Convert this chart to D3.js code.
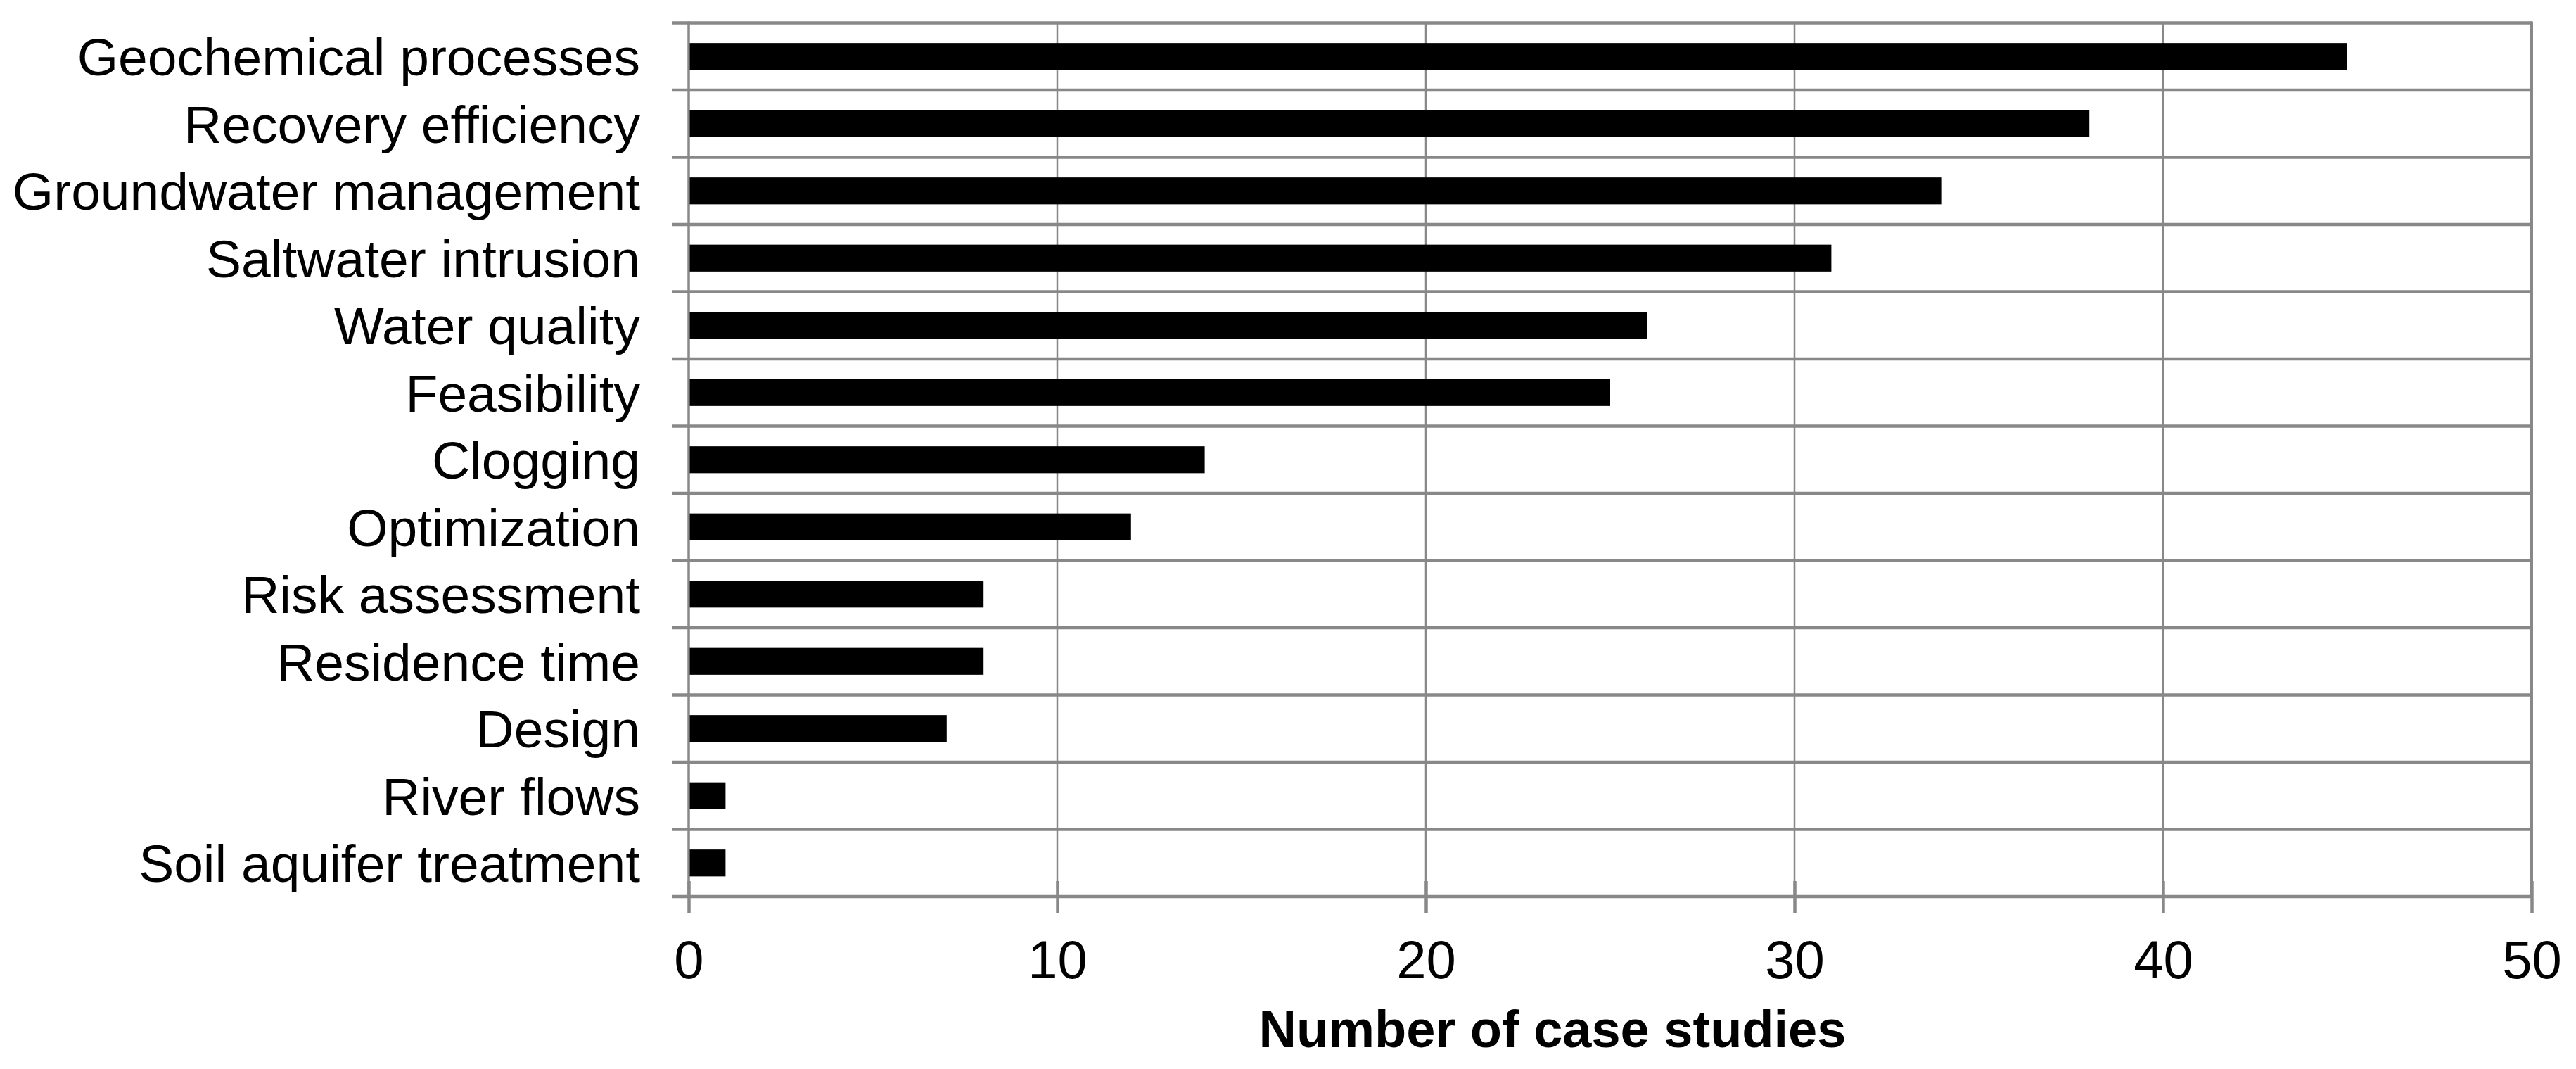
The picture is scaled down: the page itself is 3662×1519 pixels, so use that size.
<!DOCTYPE html>
<html>
<head>
<meta charset="utf-8">
<script src="https://cdn.jsdelivr.net/npm/d3@7"></script>
<style>
  html, body { margin: 0; padding: 0; background: #fff; }
  svg { display: block; }
  text { font-family: "Liberation Sans", Arial, sans-serif; fill: #000; }
</style>
</head>
<body>
<svg id="chart" width="3662" height="1519"></svg>
<script>
const categories = [
  "Geochemical processes",
  "Recovery efficiency",
  "Groundwater management",
  "Saltwater intrusion",
  "Water quality",
  "Feasibility",
  "Clogging",
  "Optimization",
  "Risk assessment",
  "Residence time",
  "Design",
  "River flows",
  "Soil aquifer treatment"
];
const values = [45, 38, 34, 31, 26, 25, 14, 12, 8, 8, 7, 1, 1];
const xTicks = [0, 10, 20, 30, 40, 50];
const xTitle = "Number of case studies";

const plotLeft = 979, plotRight = 3599, plotTop = 32.5, plotBottom = 1274;
const grid = "#888888";

const svg = d3.select("#chart");

const x = d3.scaleLinear().domain([0, 50]).range([plotLeft, plotRight]);
const yRow = d3.scaleBand().domain(categories).range([plotTop, plotBottom]).padding(0);
const yBar = d3.scaleBand().domain(categories).range([plotTop, plotBottom])
  .paddingInner(0.6).paddingOuter(0.3);

// vertical gridlines
svg.append("g").selectAll("line").data(xTicks.slice(1, -1)).join("line")
  .attr("x1", d => x(d)).attr("x2", d => x(d))
  .attr("y1", plotTop).attr("y2", plotBottom)
  .attr("stroke", grid).attr("stroke-width", 2.5);

// horizontal row separators (with left ticks)
const rowEdges = categories.map(c => yRow(c)).concat([plotBottom]);
svg.append("g").selectAll("line").data(rowEdges).join("line")
  .attr("x1", plotLeft - 23).attr("x2", plotRight)
  .attr("y1", d => d).attr("y2", d => d)
  .attr("stroke", grid).attr("stroke-width", 4.5);

// left axis line and right border
svg.append("line").attr("x1", plotLeft).attr("x2", plotLeft).attr("y1", plotTop - 2).attr("y2", plotBottom)
  .attr("stroke", grid).attr("stroke-width", 3.5);
svg.append("line").attr("x1", plotRight).attr("x2", plotRight).attr("y1", plotTop - 2).attr("y2", plotBottom)
  .attr("stroke", grid).attr("stroke-width", 4);

// bars
svg.append("g").selectAll("rect").data(categories).join("rect")
  .attr("x", x(0) + 1.5)
  .attr("y", c => yBar(c))
  .attr("width", (c, i) => x(values[i]) - x(0) - 1.5)
  .attr("height", yBar.bandwidth())
  .attr("fill", "#000");

// bottom axis ticks + labels
const xAxis = d3.axisBottom(x).tickValues(xTicks).tickSizeInner(45).tickSizeOuter(0).tickPadding(0);
const gx = svg.append("g").attr("transform", `translate(0,${plotBottom - 22})`).call(xAxis);
gx.select(".domain").remove();
gx.selectAll(".tick line").attr("stroke", grid).attr("stroke-width", 4.5);
gx.selectAll(".tick text")
  .attr("y", 1390 - (plotBottom - 22)).attr("dy", null)
  .style("font-family", '"Liberation Sans", Arial, sans-serif')
  .style("font-size", "76px").attr("fill", "#000");

// category labels
svg.append("g").selectAll("text").data(categories).join("text")
  .attr("x", 910)
  .attr("y", c => yRow(c) + yRow.bandwidth() / 2 + 0.358 * 75)
  .attr("text-anchor", "end")
  .style("font-size", "75px")
  .text(c => c);

// axis title
svg.append("text")
  .attr("x", 2207).attr("y", 1488)
  .attr("text-anchor", "middle")
  .style("font-size", "74px").style("font-weight", "bold")
  .text(xTitle);
</script>
</body>
</html>
